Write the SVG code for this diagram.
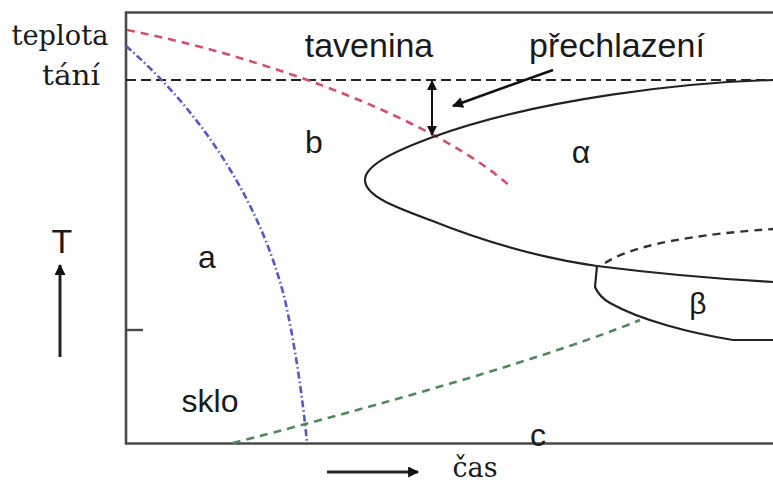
<svg xmlns="http://www.w3.org/2000/svg" width="773" height="484" viewBox="0 0 773 484">
<defs>
<style>
.sans{font-family:"Liberation Sans",Arial,sans-serif;fill:#1a1a1a}
.serif{font-family:"DejaVu Serif","Liberation Serif",serif;fill:#1a1a1a}
.frame{fill:none;stroke:#4a4a4a;stroke-width:2.6}
.solid{fill:none;stroke:#222;stroke-width:2.2;stroke-linejoin:round}
</style>
<marker id="ah" viewBox="0 0 10 10" refX="9" refY="5" markerWidth="10" markerHeight="10" markerUnits="userSpaceOnUse" orient="auto-start-reverse">
<path d="M0,0 L10,5 L0,10 Z" fill="#111"/>
</marker>
<marker id="ahb" viewBox="0 0 10 10" refX="9" refY="5" markerWidth="15" markerHeight="11" markerUnits="userSpaceOnUse" orient="auto">
<path d="M0,0 L10,5 L0,10 Z" fill="#111"/>
</marker>
</defs>
<rect width="773" height="484" fill="#fff"/>
<g id="frame">
<path class="frame" d="M773,12.5 H126 V443.5 H773"/>
<line x1="126" y1="330" x2="143" y2="330" stroke="#4a4a4a" stroke-width="2.4"/>
<line x1="126" y1="80" x2="773" y2="80" stroke="#222" stroke-width="2" stroke-dasharray="10,5"/>
</g>
<g id="curves">
<path id="red" d="M127,30 C270,58 440,122 512,188" fill="none" stroke="#d2526a" stroke-width="2.6" stroke-dasharray="8,6"/>
<path id="blue" d="M126,46 C200,110 260,200 285,300 C295,345 303,400 307,443" fill="none" stroke="#5656c8" stroke-width="2.6" stroke-dasharray="7,3,1.5,3"/>
<path id="green" d="M233,443 C330,418 530,365 640,320" fill="none" stroke="#4e8a5e" stroke-width="2.6" stroke-dasharray="8,6"/>
<path id="alpha-curve" class="solid" d="M773,80 C690,82 540,98 433,137 C395,151 365,165 365,180 C365,196 395,207 430,220 C480,240 540,258 597,266 C660,274 720,279 773,282"/>
<path id="beta-curve" class="solid" d="M597,266 L595,287 C598,294 603,299 610,303 C640,320 690,333 733,340 L773,340"/>
<path id="beta-dashed" d="M605,263 C625,250 670,236 773,229" fill="none" stroke="#333" stroke-width="2.4" stroke-dasharray="8,6"/>
</g>
<g id="connectors">
<line x1="432" y1="81" x2="432" y2="135" stroke="#111" stroke-width="2" marker-start="url(#ah)" marker-end="url(#ah)"/>
<line x1="553" y1="70" x2="453" y2="106" stroke="#111" stroke-width="2.6" marker-end="url(#ahb)"/>
<line x1="60" y1="357" x2="60" y2="265" stroke="#222" stroke-width="3" marker-end="url(#ahb)"/>
<line x1="327" y1="472" x2="418" y2="472" stroke="#222" stroke-width="3" marker-end="url(#ahb)"/>
</g>
<g id="labels">
<text class="serif" x="60" y="45" font-size="27" text-anchor="middle" textLength="97" lengthAdjust="spacingAndGlyphs">teplota</text>
<text class="serif" x="71" y="85" font-size="27" text-anchor="middle" textLength="58" lengthAdjust="spacingAndGlyphs">tání</text>
<text class="serif" x="475" y="477" font-size="27" text-anchor="middle">čas</text>
<text class="sans" x="369" y="57" font-size="34" text-anchor="middle">tavenina</text>
<text class="sans" x="617" y="57" font-size="34" text-anchor="middle">přechlazení</text>
<text class="sans" x="314" y="153" font-size="32" text-anchor="middle">b</text>
<text class="sans" x="581" y="163" font-size="32" text-anchor="middle">α</text>
<text class="sans" x="207" y="268" font-size="32" text-anchor="middle">a</text>
<text class="sans" x="210" y="412" font-size="32" text-anchor="middle">sklo</text>
<text class="sans" x="538" y="446" font-size="32" text-anchor="middle">c</text>
<text class="sans" x="698" y="314" font-size="30" text-anchor="middle">β</text>
<text class="sans" x="62" y="253" font-size="34" text-anchor="middle">T</text>
</g>
</svg>
